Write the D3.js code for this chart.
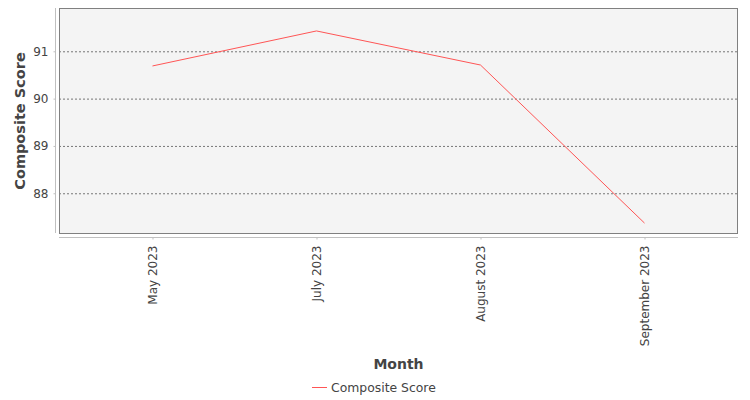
<!DOCTYPE html>
<html><head><meta charset="utf-8">
<script src="https://cdn.jsdelivr.net/npm/d3@7"></script>
<style>body{margin:0;background:#fff}text{font-family:"DejaVu Sans",sans-serif}</style>
</head><body>
<svg id="c" width="750" height="400"></svg>
<script>
const categories = ["May 2023","July 2023","August 2023","September 2023"];
const values = [90.69, 91.43, 90.71, 87.37];
const yTicks = [88, 89, 90, 91];
const seriesName = "Composite Score";

const svg = d3.select("#c");
const L = 59, R = 738, T = 8, B = 233;
const x = d3.scalePoint().domain(categories).range([L, R]).padding(0.57);
const y = d3.scaleLinear().domain([87.16, 91.915]).range([B, T]);

svg.append("rect").attr("x", L).attr("y", T).attr("width", R - L).attr("height", B - T)
  .attr("fill", "#f4f4f4");
// gridlines
svg.append("g").selectAll("line").data(yTicks).join("line")
  .attr("x1", L).attr("x2", R).attr("y1", d => y(d) + 0.5).attr("y2", d => y(d) + 0.5)
  .attr("stroke", "#555").attr("stroke-width", 0.8).attr("stroke-dasharray", "2,2");
svg.append("rect").attr("x", L + 0.5).attr("y", T + 0.5).attr("width", R - L - 1).attr("height", B - T)
  .attr("fill", "none").attr("stroke", "#808080").attr("stroke-width", 1);

// y axis
const ya = svg.append("g").attr("transform", "translate(55.5,0)")
  .call(d3.axisLeft(y).tickValues(yTicks).tickSize(2).tickPadding(5).tickFormat(d3.format("d")));
ya.select(".domain").attr("stroke", "#c0c0c0").attr("d", `M0,${T}V${B}`);
ya.selectAll(".tick line").attr("stroke", "#c0c0c0");
ya.selectAll("text").attr("fill", "#444").style("font-size", "12px");

// x axis
const xa = svg.append("g").attr("transform", "translate(0,237.5)")
  .call(d3.axisBottom(x).tickSize(2).tickPadding(0));
xa.select(".domain").attr("stroke", "#c0c0c0").attr("d", `M${L},0H${R}`);
xa.selectAll(".tick line").attr("stroke", "#c0c0c0");
xa.selectAll("text").attr("fill", "#444").style("font-size", "12px")
  .attr("transform", "rotate(-90)").attr("text-anchor", "end")
  .attr("x", -8).attr("y", 0).attr("dy", "0.35em");

// line
svg.append("path").datum(values.map((v, i) => [categories[i], v]))
  .attr("fill", "none").attr("stroke", "#ff5555").attr("stroke-width", 1)
  .attr("d", d3.line().x(d => x(d[0])).y(d => y(d[1])));

// axis titles
svg.append("text").attr("transform", `translate(25,${(T + B) / 2 + 0.5}) rotate(-90)`)
  .attr("text-anchor", "middle").attr("fill", "#444").style("font-size", "14.5px").style("font-weight", "bold")
  .text("Composite Score");
svg.append("text").attr("x", (L + R) / 2).attr("y", 369).attr("text-anchor", "middle")
  .attr("fill", "#444").style("font-size", "14px").style("font-weight", "bold").text("Month");

// legend
svg.append("line").attr("x1", 312).attr("x2", 327).attr("y1", 387.5).attr("y2", 387.5)
  .attr("stroke", "#ff5555").attr("stroke-width", 1);
svg.append("text").attr("x", 331).attr("y", 391.5).attr("fill", "#444").style("font-size", "12.4px")
  .text(seriesName);
</script>
</body></html>
